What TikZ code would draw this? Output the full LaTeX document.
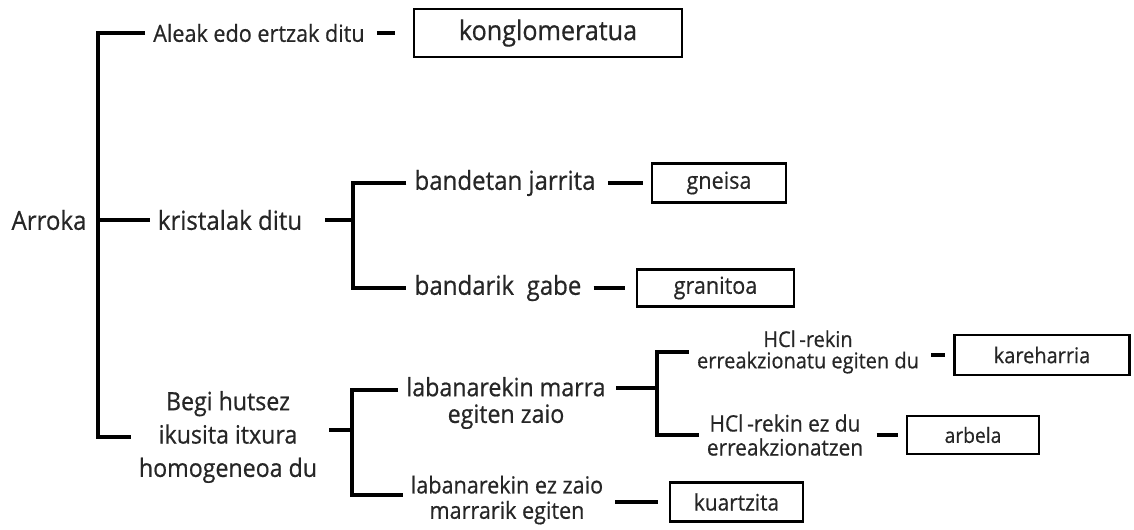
\documentclass[tikz,border=0pt]{standalone}
\usepackage{fontspec}
\setmainfont[FakeStretch=0.92, FakeBold=0.6]{Open Sans}

\begin{document}
\begin{tikzpicture}[
    x=0.75pt, y=-0.75pt,
    txt/.style={inner xsep=6pt, inner ysep=1pt, align=center, text=black!85},
    rock/.style={draw, line width=1.9pt, inner sep=0pt, text=black!85},
    conn/.style={draw, line width=2.6pt},
    tick/.style={conn, shorten <=3pt, shorten >=6pt}
]
    \useasboundingbox (0,0) rectangle (1134,529);

    % Nodes
    \node [txt, font=\fontsize{19.6}{22}\selectfont] (arroka) at (49,220) {Arroka};
    \node [txt, anchor=west, font=\fontsize{17.6}{20}\selectfont] (aleak) at (145,33) {Aleak edo ertzak ditu};
    \node [rock, minimum width=201pt, minimum height=36pt, font=\fontsize{20.5}{23}\selectfont] (konglo) at (548,33) {konglomeratua};

    \node [txt, font=\fontsize{19.6}{22}\selectfont] (kris) at (230,220) {kristalak ditu};
    \node [txt, font=\fontsize{19.6}{22}\selectfont] (band1) at (505,183) {bandetan jarrita};
    \node [rock, minimum width=100.5pt, minimum height=29pt, font=\fontsize{17.6}{20}\selectfont] (gneisa) at (719,183) {gneisa};
    \node [txt, font=\fontsize{19.6}{22}\selectfont] (band2) at (498,288) {bandarik\ \ gabe};
    \node [rock, minimum width=118pt, minimum height=28pt, font=\fontsize{17.6}{20}\selectfont] (granitoa) at (715.5,288) {granitoa};

    \node [txt, font=\fontsize{18.9}{25}\selectfont] (begi) at (228,437) {Begi hutsez\\ikusita itxura\\homogeneoa du};
    \node [txt, font=\fontsize{18.9}{20}\selectfont] (laban1) at (506,403) {labanarekin marra\\egiten zaio};
    \node [txt, font=\fontsize{17.6}{19}\selectfont] (laban2) at (507,500) {labanarekin ez zaio\\marrarik egiten};
    \node [rock, minimum width=100pt, minimum height=29pt, font=\fontsize{17}{20}\selectfont] (kuartz) at (736.5,502) {kuartzita};

    \node [txt, font=\fontsize{16.3}{16}\selectfont] (hcl1) at (808,352) {HCl\,-rekin\\erreakzionatu egiten du};
    \node [rock, minimum width=131pt, minimum height=30pt, font=\fontsize{16.3}{19}\selectfont] (kare) at (1042,355) {kareharria};
    \node [txt, font=\fontsize{17}{18}\selectfont] (hcl2) at (785,435) {HCl\,-rekin ez du\\erreakzionatzen};
    \node [rock, minimum width=99pt, minimum height=28.5pt, font=\fontsize{15.7}{19}\selectfont] (arbela) at (973,435) {arbela};

    % Spines
    \coordinate (s0) at (98,220);
    \coordinate (s1) at (353,220);
    \coordinate (s2) at (352,430);
    \coordinate (s2a) at (352,390);
    \coordinate (s2b) at (352,495);
    \coordinate (s3) at (657,388);

    % Paths
    \draw [conn] (aleak.west) -| (s0) |- (begi.west);
    \draw [conn] (s0) -- (kris.west);
    \draw [tick, shorten >=13pt] (aleak.east) -- (konglo.west);

    \draw [conn, shorten <=11pt] (kris.east) -- (s1);
    \draw [conn] (band1.west) -| (s1) |- (band2.west);
    \draw [tick] (band1.east) -- (gneisa.west);
    \draw [tick, shorten >=8pt] (band2.east) -- (granitoa.west);

    \draw [conn, shorten <=3pt] (begi.east |- s2) -- (s2);
    \draw [conn] (laban1.west |- s2a) -- (s2a) -- (s2b) -- (laban2.west |- s2b);
    \draw [tick, shorten >=8pt] (laban2.east |- kuartz.west) -- (kuartz.west);

    \draw [conn, shorten <=2pt] (laban1.east |- s3) -- (s3);
    \draw [conn] (hcl1.west) -| (s3) |- (hcl2.west);
    \draw [tick] (hcl1.east |- kare.west) -- (kare.west);
    \draw [tick, shorten <=4pt] (hcl2.east) -- (arbela.west);
\end{tikzpicture}
\end{document}
